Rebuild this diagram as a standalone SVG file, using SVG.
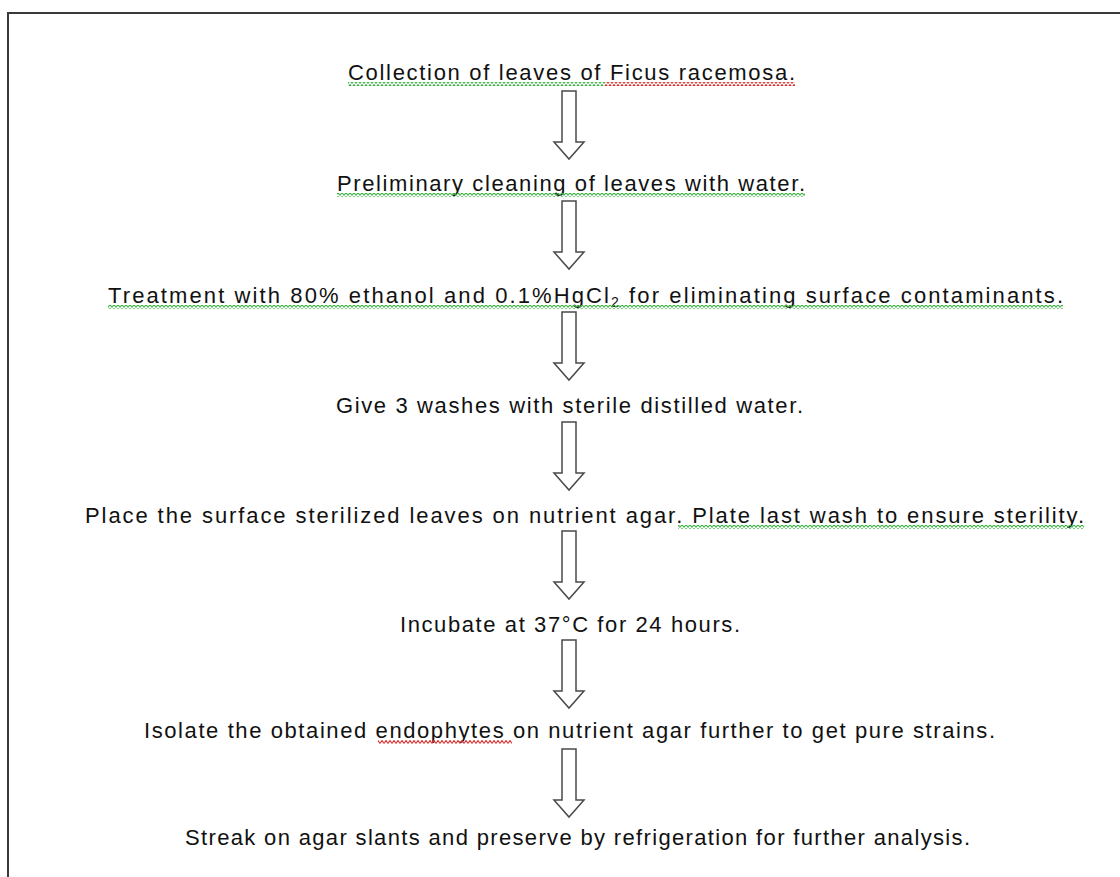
<svg xmlns="http://www.w3.org/2000/svg" width="1120" height="877" viewBox="0 0 1120 877">
<style>
.t{font-family:"Liberation Sans",Arial,sans-serif;font-size:22px;fill:#111}
.arr{fill:#fff;stroke:#4a4a4a;stroke-width:1.5;stroke-linejoin:miter}
.sg{fill:url(#green)}
.sr{fill:url(#red)}
</style>
<defs>
<pattern id="green" width="4" height="4" patternUnits="userSpaceOnUse">
<path d="M0,3.5 L2,0.5 L4,3.5" fill="none" stroke="#3cb043" stroke-width="1.1"/>
</pattern>
<pattern id="red" width="4" height="4" patternUnits="userSpaceOnUse">
<path d="M0,3.5 L2,0.5 L4,3.5" fill="none" stroke="#e03030" stroke-width="1.1"/>
</pattern>
<path id="arrow" d="M-7,0 H7 V51 H15 L0,68 L-15,51 H-7 Z"/>
</defs>
<rect width="1120" height="877" fill="#fff"/>
<rect x="8" y="13" width="1130" height="900" fill="none" stroke="#3a3a3a" stroke-width="2"/>

<g id="n1">
<text class="t" x="348" y="80" textLength="447" lengthAdjust="spacing">Collection of leaves of Ficus racemosa.</text>
<rect class="sg" x="348" y="82" width="257" height="4"/>
<rect class="sr" x="605" y="82" width="190" height="4"/>
</g>
<g id="n2">
<text class="t" x="337" y="191" textLength="468" lengthAdjust="spacing">Preliminary cleaning of leaves with water.</text>
<rect class="sg" x="337" y="193" width="468" height="4"/>
</g>
<g id="n3">
<text class="t" x="108" y="303" textLength="955" lengthAdjust="spacing">Treatment with 80% ethanol and 0.1%HgCl<tspan font-size="14" dy="4">2</tspan><tspan dy="-4"> for eliminating surface contaminants.</tspan></text>
<rect class="sg" x="108" y="305" width="955" height="4"/>
</g>
<g id="n4">
<text class="t" x="336" y="413" textLength="467" lengthAdjust="spacing">Give 3 washes with sterile distilled  water.</text>
</g>
<g id="n5">
<text class="t" x="85" y="523" textLength="999" lengthAdjust="spacing">Place the surface sterilized leaves on nutrient agar. Plate last wash to ensure sterility.</text>
<rect class="sg" x="678" y="525" width="406" height="4"/>
</g>
<g id="n6">
<text class="t" x="400" y="632" textLength="340" lengthAdjust="spacing">Incubate at 37°C for 24 hours.</text>
</g>
<g id="n7">
<text class="t" x="144" y="738" textLength="851" lengthAdjust="spacing">Isolate the obtained  endophytes  on nutrient  agar further to get pure strains.</text>
<rect class="sr" x="378" y="740" width="134" height="4"/>
</g>
<g id="n8">
<text class="t" x="185" y="845" textLength="785" lengthAdjust="spacing">Streak on agar slants and preserve by refrigeration for further analysis.</text>
</g>

<g id="connectors">
<use href="#arrow" class="arr" x="569" y="91"/>
<use href="#arrow" class="arr" x="569" y="201"/>
<use href="#arrow" class="arr" x="569" y="312"/>
<use href="#arrow" class="arr" x="569" y="422"/>
<use href="#arrow" class="arr" x="569" y="531"/>
<use href="#arrow" class="arr" x="569" y="640"/>
<use href="#arrow" class="arr" x="569" y="749"/>
</g>
</svg>
